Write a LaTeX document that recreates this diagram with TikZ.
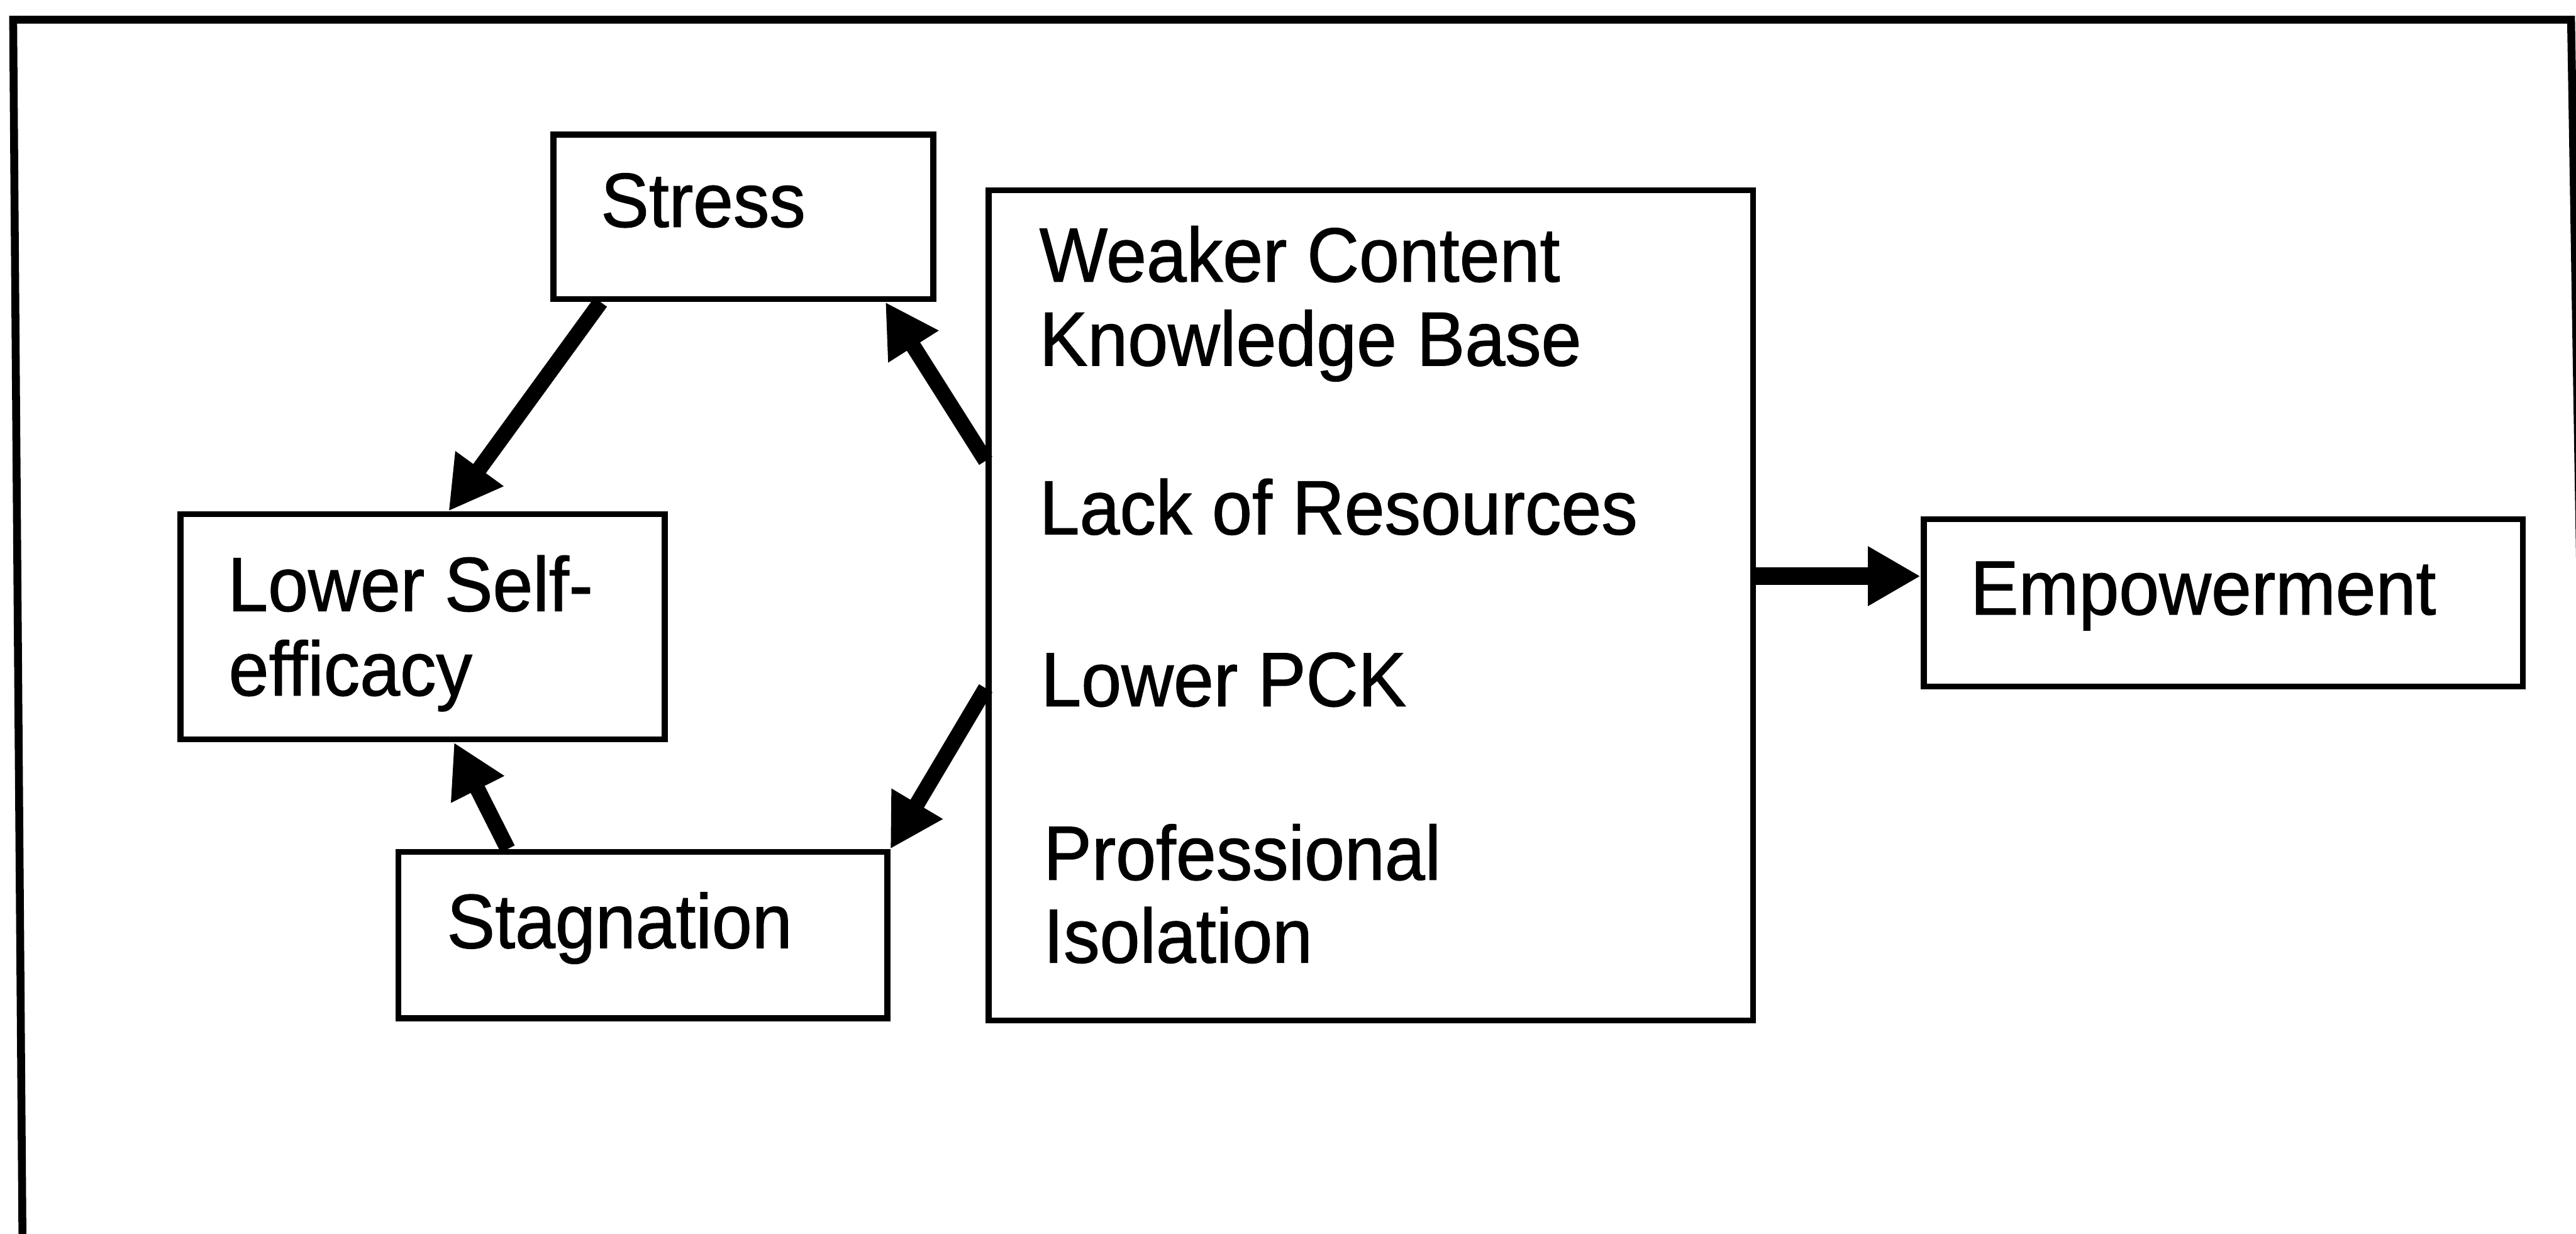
\documentclass[tikz,border=0pt]{standalone}
\usepackage{fontspec}
\setmainfont{Liberation Sans}[FakeStretch=0.94,FakeBold=1]
\usetikzlibrary{arrows.meta,calc}
\tikzset{
  box/.style={draw, line width=0.037cm, inner sep=0pt, anchor=center},
  label/.style={anchor=base west, inner sep=0pt, font=\fontsize{13.3pt}{14.65pt}\selectfont},
  arr/.style={line width=0.095cm, -{Triangle[length=0.32cm,width=0.34cm]}},
  widearr/.style={line width=0.105cm, -{Triangle[length=0.32cm,width=0.34cm]}},
  frameline/.style={line width=0.048cm, line join=miter}
}
\begin{document}
\begin{tikzpicture}[x=0.01cm, y=-0.01cm]
\useasboundingbox (0,0) rectangle (1568,751);

% outer frame, open at the bottom
\begin{scope}
  \clip (0,0) rectangle (1568,751);
  \draw[frameline] (13.8,770) -- (8,12) -- (1565,12) -- (1577.5,770);
\end{scope}

% boxes
\node[box, minimum width=2.31cm, minimum height=1.00cm] (stress) at (452.5,132) {};
\node[box, minimum width=4.65cm, minimum height=5.05cm] (causes) at (834.5,368.5) {};
\node[box, minimum width=2.945cm, minimum height=1.37cm] (lse) at (257.25,381.5) {};
\node[box, minimum width=2.974cm, minimum height=1.011cm] (stag) at (391.3,569.15) {};
\node[box, minimum width=3.646cm, minimum height=1.018cm] (emp) at (1353.3,366.9) {};

% box texts
\node[label] (tstress) at (365,138.1) {Stress};
\node[label] (tc1) at (632,171.4) {Weaker Content};
\node[label] (tc2) at (632,222.5) {Knowledge Base};
\node[label] (tc3) at (632,325.2) {Lack of Resources};
\node[label] (tc4) at (633,429.8) {Lower PCK};
\node[label] (tc5) at (634.5,535.5) {Professional};
\node[label] (tc6) at (634.5,585.9) {Isolation};
\node[label] (tlse1) at (138,371.9) {Lower Self-};
\node[label] (tlse2) at (138.5,423.3) {efficacy};
\node[label] (tstag) at (271.3,577) {Stagnation};
\node[label] (temp) at (1198.7,374) {Empowerment};

% connectors
\draw[arr] ($(stress.south west)!0.13!(stress.south east)$) -- ($(lse.north west)!0.553!(lse.north east)$);
\draw[arr] ($(causes.north west)!0.327!(causes.south west)$) -- ($(stress.south west)!0.868!(stress.south east)$);
\draw[arr] ($(causes.north west)!0.599!(causes.south west)$) -- (stag.north east);
\draw[arr] ($(stag.north west)!0.227!(stag.north east)$) -- ($(lse.south west)!0.564!(lse.south east)$);
\coordinate (empfrom) at ($(causes.north east)!0.465!(causes.south east)$);
\draw[widearr] (empfrom) -- (emp.west |- empfrom);
\end{tikzpicture}
\end{document}
